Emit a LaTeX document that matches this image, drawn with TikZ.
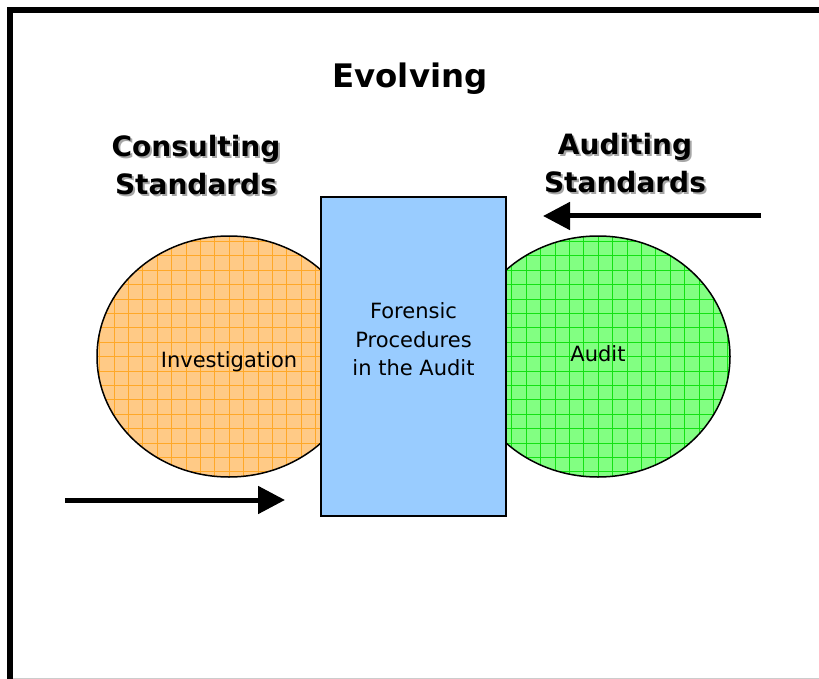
\documentclass[tikz,border=0pt]{standalone}
\usepackage{fontspec}
\setmainfont{DejaVu Sans}
\usetikzlibrary{shapes.geometric,arrows.meta,positioning}

\definecolor{peach}{RGB}{255,202,134}
\definecolor{peachgrid}{RGB}{255,168,40}
\definecolor{mint}{RGB}{130,255,130}
\definecolor{mintgrid}{RGB}{20,225,20}
\definecolor{skyblue}{RGB}{153,204,255}

% bold heading words with a soft grey shadow behind them
\newcommand{\shadowed}[1]{\rlap{\kern2pt\raisebox{-2pt}{\textcolor{black!35}{#1}}}#1}

\tikzset{
  blob/.style={draw, ellipse, line width=1.5pt, minimum width=264pt,
    minimum height=241pt, inner sep=0pt,
    path picture={\draw[#1, line width=0.6pt, step=14.4pt]
      (path picture bounding box.south west) grid (path picture bounding box.north east);}},
  bodytext/.style={align=center, font=\fontsize{21}{28.5}\selectfont},
  heading/.style={align=center, font=\bfseries\fontsize{28}{38}\selectfont},
  bigarrow/.style={line width=5pt, -{Triangle[length=27pt, width=27pt]}}
}

\begin{document}
\begin{tikzpicture}[x=1pt, y=-1pt]
    \useasboundingbox (0,0) rectangle (819,679);

    % Frame
    \draw[line width=6pt] (9.8,679) -- (9.8,9.8) -- (819,9.8);
    \draw[black!20, line width=1pt] (13,678) -- (819,678);

    % Nodes
    \node[font=\bfseries\fontsize{32.4}{38}\selectfont] (title) at (410,79) {Evolving};

    \node[heading] (consult) at (196,166) {\shadowed{Consulting}\\\shadowed{Standards}};
    \node[heading] (auditstd) at (625,164) {\shadowed{Auditing}\\\shadowed{Standards}};

    \node[blob=peachgrid, fill=peach,
      label={[bodytext, yshift=-5pt]center:Investigation}] (invest) at (229,356.5) {};
    \node[blob=mintgrid, fill=mint,
      label={[bodytext, yshift=3pt]center:Audit}] (audit) at (598,356.5) {};

    \node[draw, fill=skyblue, line width=2.2pt, minimum width=185pt, minimum height=319pt,
      label={[bodytext, yshift=17pt]center:Forensic\\Procedures\\in the Audit}]
      (forensic) at (413.5,356.5) {};

    % Arrows
    \coordinate (stdtail) at (761,216);
    \coordinate (stdtip) at (543,216);
    \coordinate (invtail) at (65,500);
    \coordinate (invtip) at (285,500);
    \draw[bigarrow] (stdtail) -- (stdtip);
    \draw[bigarrow] (invtail) -- (invtip);
\end{tikzpicture}
\end{document}
